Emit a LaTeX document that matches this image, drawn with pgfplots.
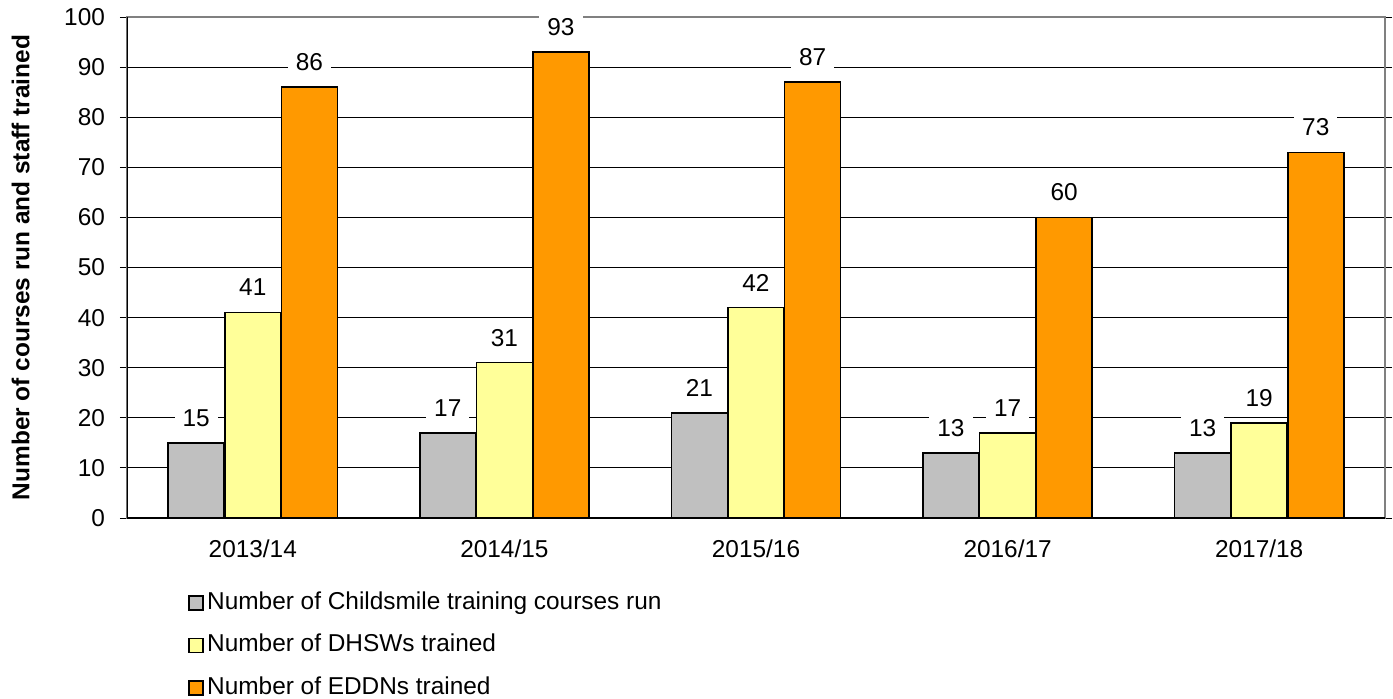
\documentclass[border=0pt]{standalone}
\usepackage{pgfplots}
\pgfplotsset{compat=1.18}
\usepackage{fontspec}
\setmainfont{Liberation Sans}
\definecolor{cgrey}{HTML}{C0C0C0}
\definecolor{cyel}{HTML}{FFFF99}
\definecolor{corange}{HTML}{FF9900}
\begin{document}
\begin{tikzpicture}
\path[use as bounding box] (-63.5pt,-90pt) rectangle (633pt,259pt);
\begin{axis}[
  scale only axis,
  width=629pt, height=250.5pt,
  font=\fontsize{12.2pt}{14.6pt}\selectfont,
  /pgf/number format/assume math mode=true,
  ybar=0.3pt, bar width=28pt,
  xmin=-0.5, xmax=4.5, ymin=0, ymax=100,
  xtick={0,1,2,3,4},
  xticklabels={2013/14,2014/15,2015/16,2016/17,2017/18},
  ytick={0,10,...,100},
  tick align=outside,
  major tick length=3.5pt,
  x tick style={draw=none},
  y tick style={black, line width=0.5pt},
  extra x ticks={-0.5,0.5,1.5,2.5,3.5,4.5},
  extra x tick labels={},
  extra x tick style={grid=none, tick style={draw=black, line width=0.5pt}},
  xticklabel style={yshift=-4pt},
  yticklabel style={xshift=-4pt},
  ymajorgrids,
  grid style={black, line width=0.5pt},
  axis line style={draw=gray, line width=0.6pt},
  ylabel={\textbf{Number of courses run and staff trained}},
  ylabel style={yshift=10.5pt},
  nodes near coords,
  nodes near coords style={fill=white, anchor=center, yshift=12.5pt, inner xsep=4pt, inner ysep=1pt, text=black},
  every axis plot/.append style={draw=black, line width=0.75pt},
  legend cell align=left,
  legend style={draw=none, fill=none, at={(0,0)}, anchor=north west, xshift=30.5pt, yshift=-35pt, row sep=6.75pt, inner sep=0pt,
    nodes={inner sep=1.5pt, text height=9pt, text depth=2.5pt}},
  legend image code/.code={\draw[#1, line width=0.9pt] (0pt,-3.5pt) rectangle (7pt,3.5pt);},
  every legend entry/.append style={xshift=1.5pt},
]
\addplot[fill=cgrey] coordinates {(0,15) (1,17) (2,21) (3,13) (4,13)};
\addplot[fill=cyel] coordinates {(0,41) (1,31) (2,42) (3,17) (4,19)};
\addplot[fill=corange] coordinates {(0,86) (1,93) (2,87) (3,60) (4,73)};
\legend{Number of Childsmile training courses run, Number of DHSWs trained, Number of EDDNs trained}
\draw[black, line width=0.6pt] (rel axis cs:0,0) -- (rel axis cs:0,1);
\draw[black, line width=0.6pt] (rel axis cs:0,0) -- (rel axis cs:1,0);
\end{axis}
\end{tikzpicture}
\end{document}
